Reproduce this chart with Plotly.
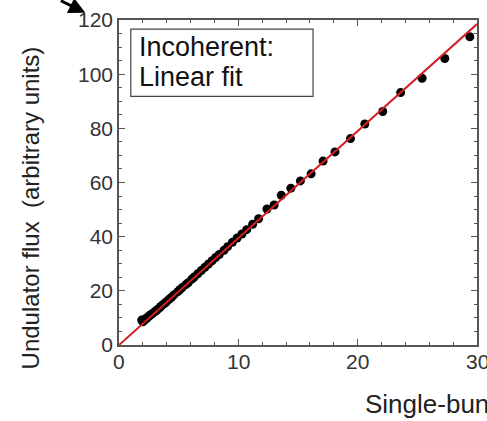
import plotly.graph_objects as go

# Data
bunch_x = [1.9, 2.0, 2.1, 2.2, 2.3, 2.4, 2.5, 2.6, 2.7, 2.8,
           3.0, 3.1, 3.2, 3.4, 3.5, 3.7, 3.9, 4.0, 4.2, 4.4,
           4.6, 4.9, 5.1, 5.3, 5.6, 5.8, 6.1, 6.3, 6.6, 6.9,
           7.2, 7.5, 7.8, 8.1, 8.4, 8.8, 9.1, 9.5, 9.9, 10.3,
           10.7, 11.2, 11.7, 12.4, 13.0, 13.6, 14.4, 15.2, 16.1, 17.1,
           18.1, 19.4, 20.6, 22.1, 23.6, 25.4, 27.3, 29.4]
flux_y = [9.2, 8.6, 9.0, 9.6, 9.8, 10.2, 10.6, 11.0, 11.3, 11.6,
          12.3, 12.6, 13.0, 13.7, 14.2, 15.0, 15.6, 16.1, 16.9, 17.6,
          18.5, 19.6, 20.4, 21.2, 22.3, 23.0, 24.3, 25.1, 26.3, 27.5,
          28.7, 29.9, 31.1, 32.3, 33.4, 35.0, 36.3, 37.9, 39.5, 41.0,
          42.6, 44.6, 46.6, 50.2, 51.7, 55.3, 57.9, 60.6, 63.2, 67.9,
          71.3, 76.2, 81.6, 86.2, 93.2, 98.5, 105.8, 113.8]
fit_x = [0, 30]
fit_slope = 3.95
fit_y = [fit_slope * v for v in fit_x]

x_ticks = [0, 10, 20, 30]
y_ticks = [0, 20, 40, 60, 80, 100, 120]

FONT = "Liberation Sans, Arial, sans-serif"
AX = "#555555"
TICKFONT = dict(family=FONT, size=21, color="#333333")

fig = go.Figure()
fig.add_trace(go.Scatter(x=bunch_x, y=flux_y, mode="markers",
                         marker=dict(color="black", size=9), showlegend=False))
fig.add_trace(go.Scatter(x=fit_x, y=fit_y, mode="lines",
                         line=dict(color="#d41f1f", width=2), showlegend=False))

axis_common = dict(showgrid=False, zeroline=False, showline=True, linecolor=AX,
                   linewidth=1.5, mirror="allticks", ticks="inside", ticklen=6,
                   tickcolor=AX, tickwidth=1.2, tickfont=TICKFONT)

fig.update_xaxes(range=[0, 30], tickvals=x_ticks, showticklabels=False,
                 minor=dict(dtick=2, ticks="inside", ticklen=3, tickcolor=AX, showgrid=False),
                 **axis_common)
fig.update_yaxes(range=[0, 120], tickvals=y_ticks,
                 minor=dict(dtick=5, ticks="inside", ticklen=3, tickcolor=AX, showgrid=False),
                 **axis_common)

# x tick labels (drawn as annotations so the last one can run past the edge)
for v in x_ticks:
    fig.add_annotation(x=v, xref="x", y=0, yref="paper", yanchor="top",
                       xanchor="center", yshift=-3, showarrow=False,
                       text=str(v), font=TICKFONT)

# y-axis title
fig.add_annotation(xref="paper", yref="paper", x=-0.247, y=0.422, xanchor="center",
                   yanchor="middle", showarrow=False, textangle=-90,
                   text="Undulator flux  (arbitrary units)",
                   font=dict(family=FONT, size=24, color="#222222"))

fig.add_shape(type="rect", xref="paper", yref="paper",
              x0=0.033, x1=0.542, y0=0.765, y1=0.972,
              line=dict(color="#444444", width=1.2), fillcolor="white")
fig.add_annotation(xref="paper", yref="paper", x=0.05, y=0.918, xanchor="left",
                   yanchor="middle", showarrow=False, align="left",
                   text="Incoherent:", font=dict(family=FONT, size=27, color="#111111"))
fig.add_annotation(xref="paper", yref="paper", x=0.05, y=0.824, xanchor="left",
                   yanchor="middle", showarrow=False, align="left",
                   text="Linear fit", font=dict(family=FONT, size=27, color="#111111"))

# x-axis title (cut off at the right edge in the reference)
fig.add_annotation(xref="paper", yref="paper", x=0.681, y=-0.18, xanchor="left",
                   yanchor="middle", showarrow=False,
                   text="Single-bunch charge (arb. units)",
                   font=dict(family=FONT, size=26, color="#222222"))

# arrow fragment at top left
fig.add_annotation(xref="paper", yref="paper", x=-0.094, y=1.022,
                   ax=-26, ay=-16, showarrow=True, arrowhead=2, arrowsize=1.1,
                   arrowwidth=3, arrowcolor="black", text="")

fig.update_layout(width=487, height=421,
                  margin=dict(l=119, r=8, t=18, b=76),
                  plot_bgcolor="white", paper_bgcolor="white",
                  font=dict(family=FONT))

fig.write_html("out.html")
